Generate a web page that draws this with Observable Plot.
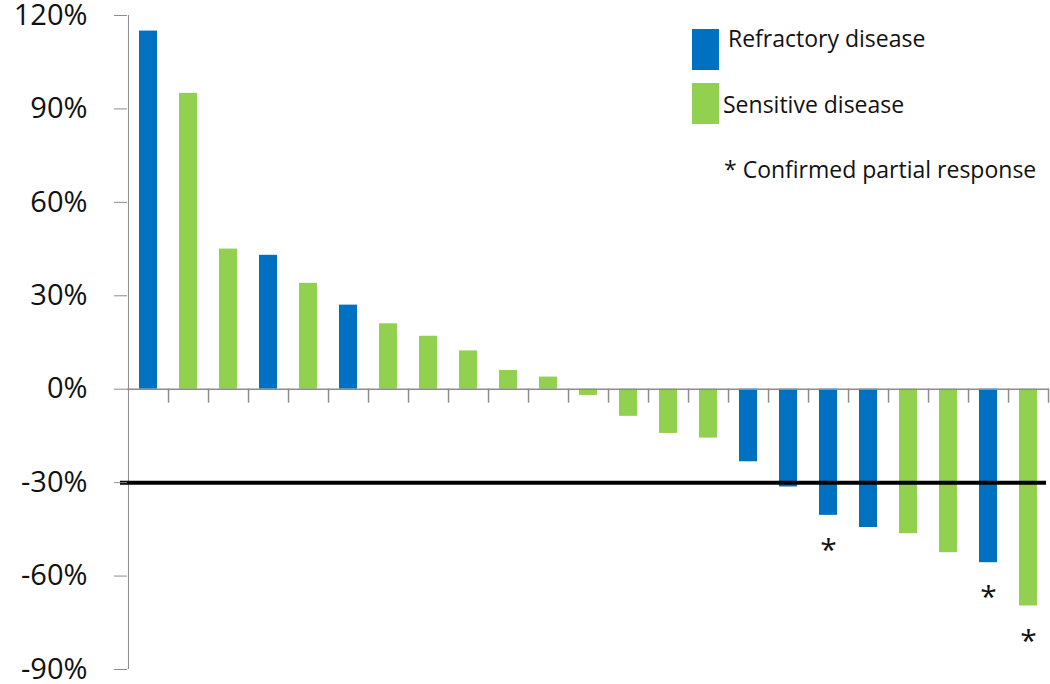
<!DOCTYPE html>
<html><head><meta charset="utf-8">
<script src="https://cdn.jsdelivr.net/npm/d3@7"></script>
<script src="https://cdn.jsdelivr.net/npm/@observablehq/plot@0.6"></script>
<style>
body{margin:0;background:#fff;}
#wrap{position:relative;width:1050px;height:684px;font-family:"Open Sans",sans-serif;overflow:hidden;}
.sw{position:absolute;width:27px;height:41px;}
.lt{position:absolute;font-size:23px;line-height:23px;color:#111;white-space:nowrap;}
</style></head><body>
<div id="wrap"><div id="chart"></div>
<div class="sw" style="left:692px;top:29px;background:#0070C0"></div>
<div class="lt" style="left:728px;top:27px">Refractory disease</div>
<div class="sw" style="left:692px;top:83px;background:#92D050"></div>
<div class="lt" style="left:723px;top:93px">Sensitive disease</div>
<div class="lt" style="left:724px;top:158px">* Confirmed partial response</div>
</div>
<script>
const patients = d3.range(1, 24);
const response = [115, 95, 45, 43, 34, 27, 21, 17, 12.3, 6, 3.9, -2, -8.7, -14.2, -15.7, -23.3, -31.4, -40.5, -44.4, -46.4, -52.5, -55.7, -69.6];
const group = ["Refractory","Sensitive","Sensitive","Refractory","Sensitive","Refractory","Sensitive","Sensitive","Sensitive","Sensitive","Sensitive","Sensitive","Sensitive","Sensitive","Sensitive","Refractory","Refractory","Refractory","Refractory","Sensitive","Sensitive","Refractory","Sensitive"];
const confirmed = [false,false,false,false,false,false,false,false,false,false,false,false,false,false,false,false,false,true,false,false,false,true,true];
const yTicks = [-90, -60, -30, 0, 30, 60, 90, 120];
const threshold = -30;

const data = patients.map((p, i) => ({patient: p, value: response[i], group: group[i], confirmed: confirmed[i]}));
const step = 922 / 23;
const axisGray = "#8c8c8c";

const chart = Plot.plot({
  width: 1050,
  height: 684,
  marginLeft: 127,
  marginRight: 1,
  marginTop: 15,
  marginBottom: 15,
  style: {fontFamily: "Open Sans, sans-serif", background: "#fff"},
  x: {domain: patients, paddingInner: 0.56, paddingOuter: 0.28, axis: null},
  y: {domain: [-90, 120], ticks: yTicks, axis: null},
  color: {domain: ["Refractory", "Sensitive"], range: ["#0070C0", "#92D050"]},
  marks: [
    Plot.barY(data, {x: "patient", y: "value", fill: "group"}),
    Plot.ruleX([patients[0]], {x: d => d, dx: -step / 2, y1: -90, y2: 120, stroke: axisGray, strokeWidth: 1}),
    Plot.ruleY([0], {stroke: axisGray, strokeWidth: 1.5}),
    Plot.ruleX(patients, {x: d => d, dx: step / 2, y1: 0, y2: 0, insetTop: 0, insetBottom: -14, stroke: axisGray, strokeWidth: 1.5}),
    Plot.ruleY([threshold], {stroke: "#000", strokeWidth: 4, insetLeft: -7, insetRight: 3}),
    Plot.axisY({ticks: yTicks, tickSize: 13, tickPadding: 27, stroke: axisGray, fill: "#111", fontSize: 29, label: null, tickFormat: d => d + "%"}),
    Plot.text(data.filter(d => d.confirmed), {x: "patient", y: "value", text: () => "*", dy: 35, fontSize: 30, fill: "#111"})
  ]
});
document.getElementById("chart").appendChild(chart);
</script>
</body></html>
